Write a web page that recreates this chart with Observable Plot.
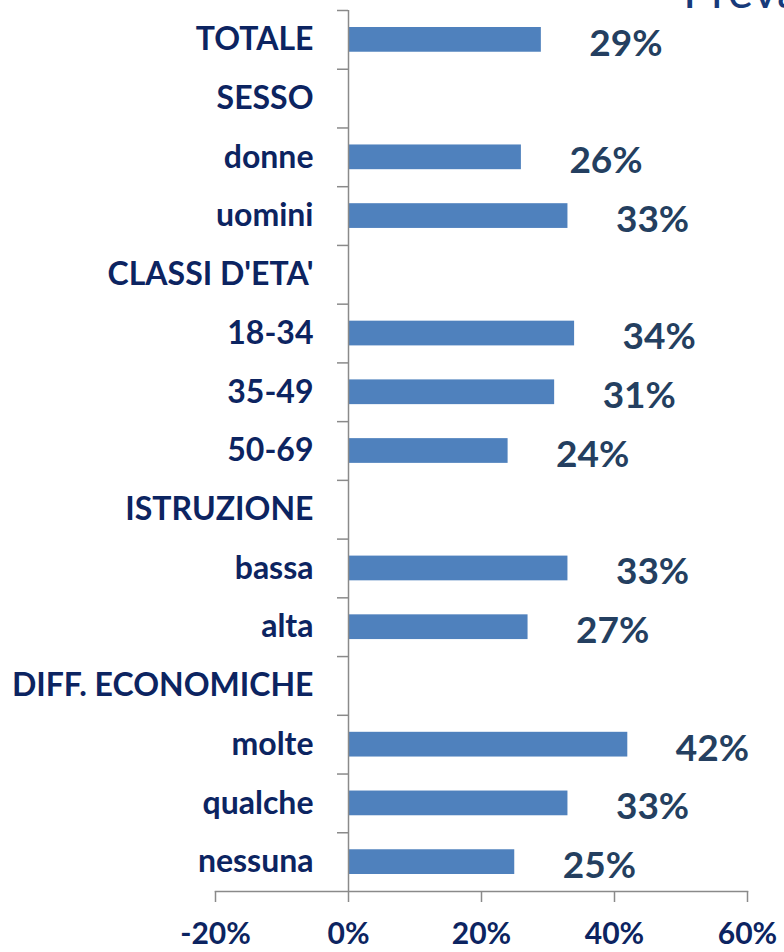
<!DOCTYPE html>
<html>
<head>
<meta charset="utf-8">
<script src="https://cdn.jsdelivr.net/npm/d3@7"></script>
<script src="https://cdn.jsdelivr.net/npm/@observablehq/plot@0.6"></script>
<style>
  html, body { margin: 0; padding: 0; background: #fff; }
  #wrap { position: relative; width: 784px; height: 952px; overflow: hidden; }
  #chart svg { display: block; }
  #title { position: absolute; left: 0; top: 0; pointer-events: none; }
</style>
</head>
<body>
<div id="wrap">
  <div id="chart"></div>
  <svg id="title" width="784" height="20"><text x="683" y="8" font-family="Lato" font-size="48" fill="#173a7a">Prevalenza</text></svg>
</div>
<script>
const categories = ["TOTALE", "SESSO", "donne", "uomini", "CLASSI D'ETA'", "18-34", "35-49", "50-69", "ISTRUZIONE", "bassa", "alta", "DIFF. ECONOMICHE", "molte", "qualche", "nessuna"];
const values = [29, null, 26, 33, null, 34, 31, 24, null, 33, 27, null, 42, 33, 25];
const xTicks = [-20, 0, 20, 40, 60];
const xDomain = [-20, 60];

const data = categories.map((c, i) => ({cat: c, value: values[i]})).filter(d => d.value != null);

const W = 784, H = 952, mT = 10, mB = 61, mL = 215, mR = 37;
const bw = (H - mT - mB) / categories.length;
// horizontal offset (px) from the frame's left edge to x = 0, from the x scale
const xScale = d3.scaleLinear().domain(xDomain).range([mL, W - mR]);
const zeroOffset = xScale(0) - xScale(xDomain[0]);
const gray = "#8a8a8a";
const navy = "#0c2461";

const plot = Plot.plot({
  width: W,
  height: H,
  marginLeft: mL,
  marginRight: mR,
  marginTop: mT,
  marginBottom: mB,
  style: {fontFamily: "Lato, 'Open Sans', sans-serif", background: "#fff"},
  x: {domain: xDomain, axis: null},
  y: {domain: categories, padding: 0, round: false, axis: null},
  marks: [
    Plot.barX(data, {x: "value", y: "cat", fill: "#4f81bd", insetTop: 17, insetBottom: 17}),
    Plot.ruleX([0], {stroke: gray, strokeWidth: 1.5}),
    Plot.frame({anchor: "bottom", stroke: gray, strokeWidth: 1.5}),
    Plot.axisX(xTicks, {tickSize: 11, tickPadding: 20, tickFormat: d => d + "%", stroke: gray, strokeWidth: 1.5, fill: navy, fontSize: 30, fontWeight: "bold", label: null}),
    Plot.axisY(categories, {tickSize: 11, fill: "none", stroke: gray, strokeWidth: 1.5, dx: zeroOffset, dy: -bw / 2, label: null}),
    Plot.axisY(categories, {tickSize: 0, tickPadding: 35, dx: zeroOffset, fill: navy, fontSize: 32, fontWeight: "bold", label: null}),
    Plot.text(data, {x: "value", y: "cat", text: d => d.value + "%", textAnchor: "start", dx: 48, dy: 4, fill: "#243f60", fontSize: 37, fontWeight: "bold"})
  ]
});
document.getElementById("chart").appendChild(plot);
</script>
</body>
</html>
